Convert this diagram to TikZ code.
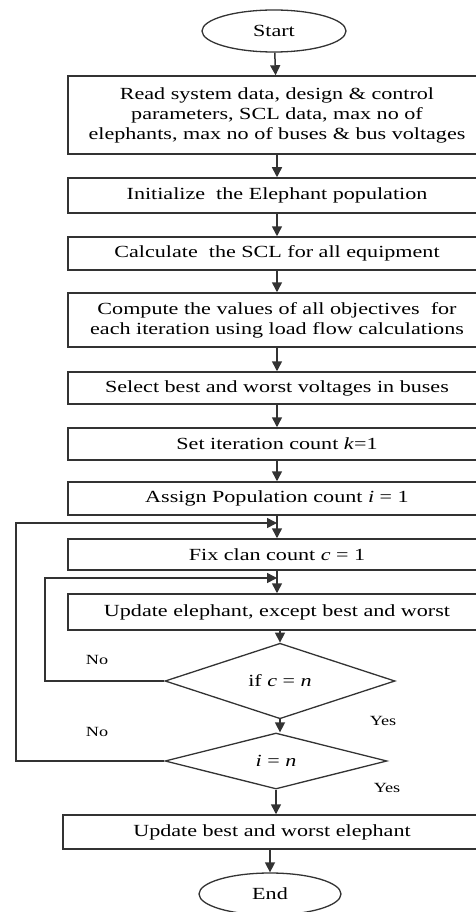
\documentclass[tikz,border=0pt]{standalone}
\usepackage{fontspec}
\setmainfont{Liberation Serif}[FakeStretch=1.3]
\usetikzlibrary{shapes.geometric,arrows.meta}
\definecolor{ln}{HTML}{333333}
\tikzset{
  box/.style={draw=ln,line width=1.5pt,rectangle,minimum width=418pt,inner sep=0pt,align=center,font=\fontsize{17}{20}\selectfont},
  term/.style={draw=ln,line width=1.3pt,ellipse,minimum width=144pt,minimum height=42pt,inner sep=0pt,font=\fontsize{17}{20}\selectfont},
  dec/.style={draw=ln,line width=1.3pt,diamond,inner sep=0pt,font=\fontsize{17}{20}\selectfont},
  arr/.style={draw=ln,line width=1.5pt,-{Triangle[width=10pt,length=10pt]}},
  lbl/.style={font=\fontsize{14}{16}\selectfont}
}
\begin{document}
\begin{tikzpicture}[x=1pt,y=-1pt]
\useasboundingbox (0,0) rectangle (476,912);
\node[term] (start) at (274,31) {Start};
\node[box,minimum height=78pt] (b1) at (277,115) {Read system data, design \& control\\parameters, SCL data, max no of\\elephants, max no of buses \& bus voltages};
\node[box,minimum height=35pt] (b2) at (277,195.5) {Initialize\ \ the Elephant population};
\node[box,minimum height=33pt] (b3) at (277,253.5) {Calculate\ \ the SCL for all equipment};
\node[box,minimum height=54pt] (b4) at (277,320) {Compute the values of all objectives\ \ for\\each iteration using load flow calculations};
\node[box,minimum height=32pt] (b5) at (277,388) {Select best and worst voltages in buses};
\node[box,minimum height=32pt] (b6) at (277,444) {Set iteration count \textit{k}=1};
\node[box,minimum height=33pt] (b7) at (277,498.5) {Assign Population count \textit{i} = 1};
\node[box,minimum height=31pt] (b8) at (277,554.5) {Fix clan count \textit{c} = 1};
\node[box,minimum height=36pt] (b9) at (277,612) {Update elephant, except best and worst};
\node[dec,minimum width=230pt,minimum height=56pt] (d1) at (280,681) {if \textit{c} = \textit{n}};
\node[dec,minimum width=222pt,minimum height=56pt] (d2) at (276,761) {\textit{i} = \textit{n}};
\node[box,minimum height=34pt] (b10) at (272,832) {Update best and worst elephant};
\node[term,minimum width=142pt] (end) at (270,894) {End};
\coordinate (j1) at (277,523);
\coordinate (j2) at (277,578);
\coordinate (l1) at (16,523);
\coordinate (l2) at (45,578);
\draw[arr] (start) -- (b1);
\draw[arr] (b1) -- (b2);
\draw[arr] (b2) -- (b3);
\draw[arr] (b3) -- (b4);
\draw[arr] (b4) -- (b5);
\draw[arr] (b5) -- (b6);
\draw[arr] (b6) -- (b7);
\draw[arr] (b7) -- (b8);
\draw[arr] (b8) -- (b9);
\draw[arr] (b9.south -| d1.north) -- (d1.north);
\draw[arr] (d1.south) -- (d2.north -| d1.south);
\draw[arr] (d2.south) -- (b10.north -| d2.south);
\draw[arr] (b10.south -| end.north) -- (end.north);
\draw[arr] (d2.west) -| (l1) -- (j1);
\draw[arr] (d1.west) -| (l2) -- (j2);
\node[lbl] (no1) at (97,660) {No};
\node[lbl] (yes1) at (383,721) {Yes};
\node[lbl] (no2) at (97,732) {No};
\node[lbl] (yes2) at (387,788) {Yes};
\end{tikzpicture}
\end{document}
